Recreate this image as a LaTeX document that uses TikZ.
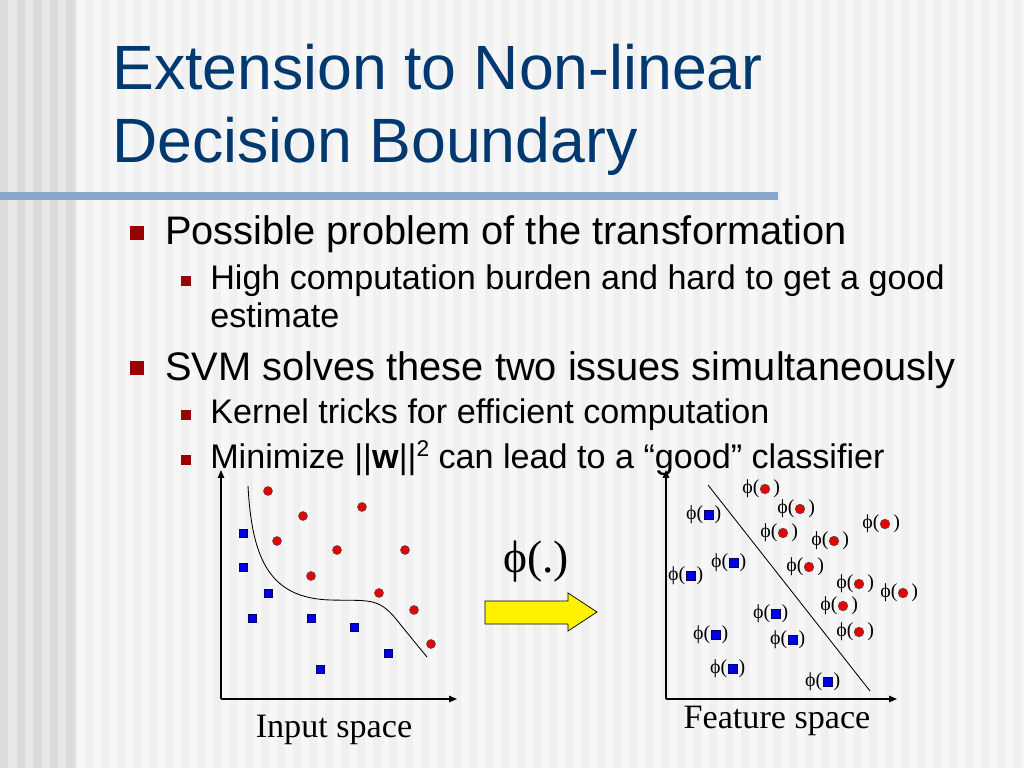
\documentclass[tikz,border=0pt]{standalone}
\usepackage{fontspec}
\setmainfont{Liberation Sans}
\newfontfamily\timesfont{Liberation Serif}
\usetikzlibrary{arrows.meta}

\definecolor{titleblue}{RGB}{0,56,112}
\definecolor{bulletred}{RGB}{153,0,0}
\definecolor{barblue}{RGB}{136,166,201}
\definecolor{stripedark}{RGB}{219,219,219}
\definecolor{stripemid}{RGB}{232,232,232}
\definecolor{stripelight}{RGB}{240,240,240}
\definecolor{paper}{RGB}{247,247,247}
\definecolor{ptred}{RGB}{235,0,0}
\definecolor{ptblue}{RGB}{0,0,230}

\tikzset{
  titletxt/.style={font=\fontsize{44}{48}\selectfont, text=titleblue, inner sep=0pt, anchor=base west},
  lvlone/.style={font=\fontsize{28}{32}\selectfont, inner sep=0pt, anchor=base west},
  lvltwo/.style={font=\fontsize{24}{28}\selectfont, inner sep=0pt, anchor=base west},
  bigbul/.style={rectangle, fill=bulletred, inner sep=0pt, minimum size=10pt},
  smallbul/.style={rectangle, fill=bulletred, inner sep=0pt, minimum size=7pt},
  spacetxt/.style={font=\timesfont\fontsize{24}{28}\selectfont, inner sep=0pt, anchor=base},
  phitxt/.style={font=\timesfont\fontsize{14}{16}\selectfont, inner sep=0pt},
  redpt/.style={circle, draw=black!70, fill=ptred, line width=0.4pt, inner sep=0pt, minimum size=6.3pt},
  bluept/.style={rectangle, draw=blue!40!black, fill=ptblue, line width=0.4pt, inner sep=0pt, minimum size=5.8pt},
  redfeat/.style={redpt, minimum size=6.8pt, label={[phitxt]left:ϕ(}, label={[phitxt, xshift=2pt]right:)}},
  bluefeat/.style={bluept, minimum size=6pt, label={[phitxt, xshift=-0.6pt]left:ϕ(}, label={[phitxt, xshift=0.6pt]right:)}},
  axis/.style={line width=0.8pt, -{Triangle[length=5.5pt,width=4.5pt]}},
}

\begin{document}
\begin{tikzpicture}[x=0.703125pt, y=-0.703125pt]
  \useasboundingbox (0,0) rectangle (1024,768);
  % background stripes
  \fill[paper] (0,0) rectangle (1024,768);
  \fill[stripemid] (0,0) rectangle (77,768);
  \foreach \i in {0,...,4}
    \fill[stripedark] (\i*16.6,0) rectangle ++(8.3,768);
  \foreach \x in {85,101,...,1020}
    \fill[stripelight] (\x,0) rectangle ++(8,768);
  \fill[barblue] (0,192) rectangle (778,200);

  % title
  \node[titletxt] (title1) at (112,90) {Extension to Non-linear};
  \node[titletxt] (title2) at (112,163) {Decision Boundary};

  % bullets
  \node[bigbul] (bul1) at (137,233) {};
  \node[lvlone] (txt1) at (165,245) {Possible problem of the transformation};
  \node[smallbul] (bul2) at (186,281) {};
  \node[lvltwo] (txt2) at (210,290) {High computation burden and hard to get a good};
  \node[lvltwo] (txt3) at (210,327) {estimate};
  \node[bigbul] (bul3) at (137,368) {};
  \node[lvlone] (txt4) at (165,380) {SVM solves these two issues simultaneously};
  \node[smallbul] (bul4) at (186,415) {};
  \node[lvltwo] (txt5) at (210,423) {Kernel tricks for efficient computation};
  \node[smallbul] (bul5) at (186,460) {};
  \node[lvltwo] (txt6) at (210,468) {Minimize ||\textbf{w}||{\fontsize{16}{18}\selectfont\raisebox{0.5em}{2}} can lead to a “good” classifier};

  % input space
  \coordinate (in-o) at (221,699);
  \coordinate (in-y) at (221,470);
  \coordinate (in-x) at (457,699);
  \draw[axis] (in-o) -- (in-y);
  \draw[axis] (in-o) -- (in-x);
  \coordinate (cv-a) at (248,486);
  \coordinate (cv-b) at (427,657);
  \draw[line width=0.6pt] (cv-a) .. controls (252,560) and (270,598) .. (330,600)
    .. controls (368,601) and (378,597) .. (396,619)
    .. controls (408,634) and (418,646) .. (cv-b);
  \foreach \n/\x/\y in {1/268/491, 2/303/516, 3/362/507, 4/277/541, 5/337/550,
      6/405/550, 7/311/576, 8/379/593, 9/414/610, 10/431/644}
    \node[redpt] (ir\n) at (\x,\y) {};
  \foreach \n/\x/\y in {1/243/533, 2/243/567, 3/268/593, 4/252/618, 5/311/618,
      6/354/627, 7/388/653, 8/320/669}
    \node[bluept] (ib\n) at (\x,\y) {};
  \node[spacetxt] (inlbl) at (334,737) {Input space};

  % mapping arrow
  \node[spacetxt, font=\timesfont\fontsize{32}{36}\selectfont] (maplbl) at (536,572) {ϕ(.)};
  \fill[yellow, draw=black, line width=0.5pt] (485,601) -- (568,601) -- (568,593) -- (597,612)
    -- (568,631) -- (568,624) -- (485,624) -- cycle;

  % feature space
  \coordinate (ft-o) at (666,699);
  \coordinate (ft-y) at (666,470);
  \coordinate (ft-x) at (897,699);
  \draw[axis] (ft-o) -- (ft-y);
  \draw[axis] (ft-o) -- (ft-x);
  \coordinate (ft-a) at (708,485);
  \coordinate (ft-b) at (870,691);
  \draw[line width=0.6pt] (ft-a) -- (ft-b);
  \foreach \n/\x/\y in {1/765/489, 2/800/509, 3/885/524, 4/783/533, 5/834/541,
      6/809/567, 7/859/584, 8/903/593, 9/843/606, 10/859/632}
    \node[redfeat] (fr\n) at (\x,\y) {};
  \foreach \n/\x/\y in {1/709/515, 2/734/563, 3/691/576, 4/776/614, 5/716/635,
      6/793/640, 7/733/669, 8/828/682}
    \node[bluefeat] (fb\n) at (\x,\y) {};
  \node[spacetxt] (ftlbl) at (777,728) {Feature space};
\end{tikzpicture}
\end{document}
